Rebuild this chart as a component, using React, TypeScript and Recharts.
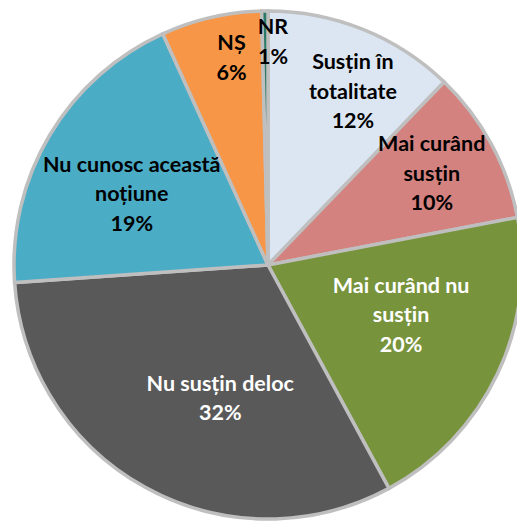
import { PieChart, Pie, Cell } from 'recharts'

if (typeof document !== 'undefined') document.body.style.margin = '0'

const categories = [
    'Susțin în totalitate',
    'Mai curând susțin',
    'Mai curând nu susțin',
    'Nu susțin deloc',
    'Nu cunosc această noțiune',
    'NȘ',
    'NR',
]
const values = [12.2, 9.8, 20.1, 31.8, 19.3, 6.4, 0.4]
const percentLabels = ['12%', '10%', '20%', '32%', '19%', '6%', '1%']
// how the category name wraps inside the slice
const labelLines = [
    ['Susțin în', 'totalitate'],
    ['Mai curând', 'susțin'],
    ['Mai curând nu', 'susțin'],
    ['Nu susțin deloc'],
    ['Nu cunosc această', 'noțiune'],
    ['NȘ'],
    ['NR'],
]

const COLORS = ['#dce6f2', '#d4827f', '#77933c', '#595959', '#4bacc6', '#f79646', '#2b7a68']
const TEXT_COLORS = ['#000', '#000', '#fff', '#fff', '#000', '#000', '#000']

// label anchor: distance from centre and angular shift (deg, clockwise) from the slice middle
const LABEL_POS = [
    { r: 194, shift: 4 },
    { r: 188, shift: -1 },
    { r: 142, shift: -5 },
    { r: 141, shift: -9 },
    { r: 154, shift: -3 },
    { r: 211, shift: 3 },
    { r: 224, shift: 2 },
]

const RAD = Math.PI / 180
const LINE_H = 29.5

const data = categories.map((name, i) => ({ name, value: values[i] }))

const renderLabel = (props: any) => {
    const { cx, cy, midAngle, index } = props
    const pos = LABEL_POS[index]
    const a = midAngle - pos.shift
    const x = cx + pos.r * Math.cos(-a * RAD)
    const y = cy + pos.r * Math.sin(-a * RAD)
    const lines = [...labelLines[index], percentLabels[index]]
    const top = y - ((lines.length - 1) * LINE_H) / 2
    return (
        <text
            x={x}
            y={top}
            textAnchor="middle"
            dominantBaseline="central"
            fill={TEXT_COLORS[index]}
            style={{ fontFamily: 'Lato, sans-serif', fontWeight: 700, fontSize: 21.5 }}
        >
            {lines.map((l, k) => (
                <tspan key={k} x={x} y={top + k * LINE_H}>{l}</tspan>
            ))}
        </text>
    )
}

export default function App() {
    return (
        <PieChart width={517} height={523} margin={{ top: 0, right: 0, bottom: 0, left: 0 }}>
            <Pie
                data={data}
                dataKey="value"
                nameKey="name"
                cx={268}
                cy={265}
                outerRadius={254}
                startAngle={90}
                endAngle={-270}
                stroke="#bfbfbf"
                strokeWidth={3.5}
                label={renderLabel}
                labelLine={false}
                isAnimationActive={false}
            >
                {data.map((d, i) => (
                    <Cell key={d.name} fill={COLORS[i]} />
                ))}
            </Pie>
        </PieChart>
    )
}
